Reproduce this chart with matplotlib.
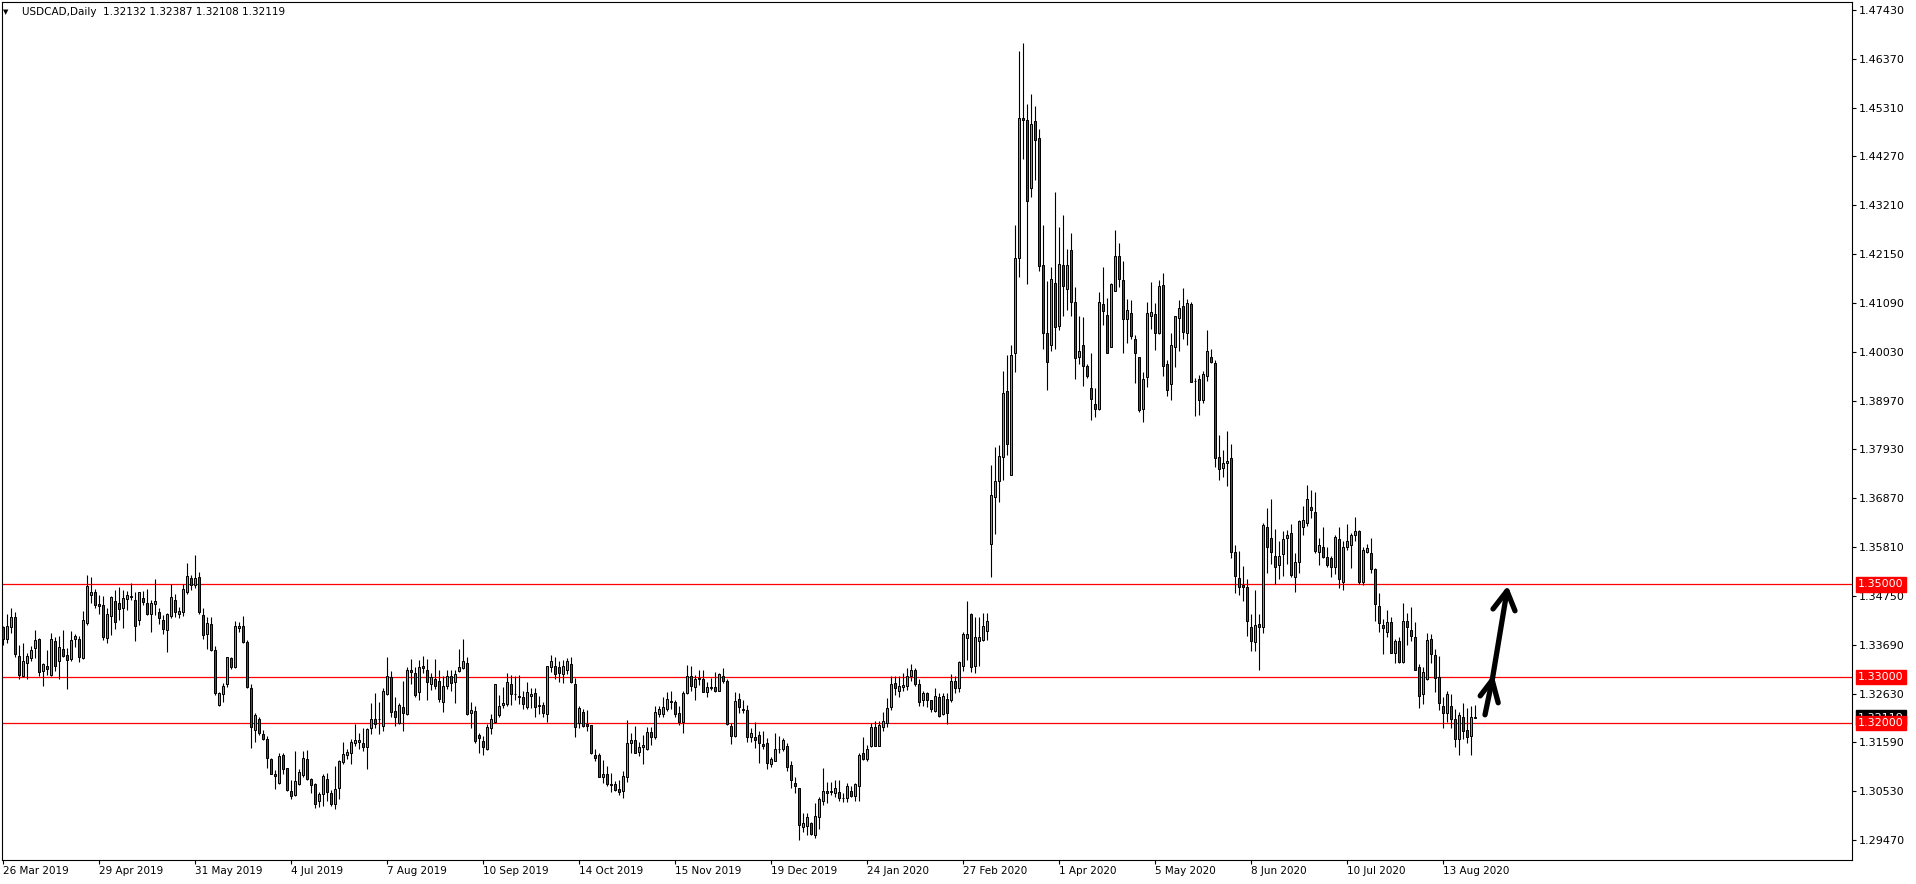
import numpy as np
import pandas as pd
import matplotlib
matplotlib.use("Agg")
import matplotlib.pyplot as plt

# USDCAD daily OHLC, 26 Mar 2019 .. 25 Aug 2020
opens = [
    1.3407, 1.3383, 1.3407, 1.3429, 1.3345, 1.3301, 1.3329, 1.3340, 1.3362, 1.3382,
    1.3313, 1.3323, 1.3305, 1.3378, 1.3334, 1.3360, 1.3347, 1.3338, 1.3381, 1.3383,
    1.3340, 1.3416, 1.3478, 1.3483, 1.3458, 1.3455, 1.3385, 1.3432, 1.3464, 1.3460,
    1.3450, 1.3468, 1.3473, 1.3466, 1.3423, 1.3470, 1.3460, 1.3436, 1.3457, 1.3440,
    1.3423, 1.3401, 1.3432, 1.3466, 1.3436, 1.3440, 1.3484, 1.3515, 1.3499, 1.3517,
    1.3433, 1.3392, 1.3414, 1.3359, 1.3239, 1.3262, 1.3284, 1.3340, 1.3322, 1.3405,
    1.3410, 1.3375, 1.3277, 1.3186, 1.3210, 1.3176, 1.3165, 1.3122, 1.3091, 1.3070,
    1.3132, 1.3102, 1.3053, 1.3044, 1.3068, 1.3088, 1.3122, 1.3079, 1.3068, 1.3031,
    1.3047, 1.3079, 1.3048, 1.3026, 1.3059, 1.3115, 1.3130, 1.3135, 1.3156, 1.3160,
    1.3158, 1.3148, 1.3189, 1.3208, 1.3209, 1.3194, 1.3263, 1.3299, 1.3227, 1.3200,
    1.3234, 1.3219, 1.3316, 1.3308, 1.3267, 1.3324, 1.3315, 1.3284, 1.3295, 1.3292,
    1.3246, 1.3281, 1.3303, 1.3288, 1.3313, 1.3319, 1.3329, 1.3221, 1.3226, 1.3174,
    1.3161, 1.3143, 1.3189, 1.3202, 1.3218, 1.3239, 1.3241, 1.3284, 1.3263, 1.3258,
    1.3256, 1.3234, 1.3259, 1.3265, 1.3239, 1.3239, 1.3219, 1.3321, 1.3324, 1.3322,
    1.3306, 1.3315, 1.3327, 1.3284, 1.3200, 1.3223, 1.3198, 1.3196, 1.3132, 1.3130,
    1.3083, 1.3091, 1.3068, 1.3068, 1.3057, 1.3053, 1.3084, 1.3158, 1.3164, 1.3137,
    1.3148, 1.3143, 1.3180, 1.3171, 1.3219, 1.3220, 1.3230, 1.3247, 1.3245, 1.3221,
    1.3202, 1.3265, 1.3301, 1.3279, 1.3296, 1.3295, 1.3268, 1.3275, 1.3279, 1.3270,
    1.3303, 1.3291, 1.3194, 1.3173, 1.3252, 1.3231, 1.3228, 1.3169, 1.3171, 1.3174,
    1.3155, 1.3156, 1.3111, 1.3119, 1.3145, 1.3143, 1.3151, 1.3109, 1.3071, 1.3059,
    1.2975, 1.2978, 1.2983, 1.2958, 1.2998, 1.3032, 1.3053, 1.3050, 1.3049, 1.3050,
    1.3038, 1.3037, 1.3053, 1.3043, 1.3065, 1.3135, 1.3122, 1.3151, 1.3191, 1.3151,
    1.3192, 1.3200, 1.3234, 1.3286, 1.3270, 1.3278, 1.3281, 1.3301, 1.3316, 1.3284,
    1.3249, 1.3265, 1.3249, 1.3227, 1.3256, 1.3219, 1.3252, 1.3250, 1.3291, 1.3275,
    1.3324, 1.3385, 1.3436, 1.3324, 1.3378, 1.3380, 1.3400, 1.3587, 1.3689, 1.3724,
    1.3776, 1.3918, 1.3736, 1.4000, 1.4207, 1.4510, 1.4504, 1.4357, 1.4502, 1.4466,
    1.4191, 1.4044, 1.4017, 1.4153, 1.4060, 1.4191, 1.4139, 1.4223, 1.4111, 1.3991,
    1.4017, 1.3972, 1.3925, 1.3890, 1.3880, 1.4107, 1.4083, 1.4014, 1.4135, 1.4210,
    1.4159, 1.4074, 1.4087, 1.4031, 1.3991, 1.3879, 1.3948, 1.4081, 1.4084, 1.4043,
    1.4147, 1.3977, 1.3933, 1.4014, 1.4077, 1.4102, 1.4045, 1.4106, 1.3941, 1.3945,
    1.3900, 1.3950, 1.3991, 1.3979, 1.3775, 1.3751, 1.3762, 1.3773, 1.3571, 1.3513,
    1.3499, 1.3494, 1.3407, 1.3375, 1.3414, 1.3407, 1.3624, 1.3600, 1.3562, 1.3542,
    1.3565, 1.3601, 1.3611, 1.3517, 1.3548, 1.3625, 1.3634, 1.3667, 1.3656, 1.3571,
    1.3580, 1.3560, 1.3557, 1.3537, 1.3598, 1.3505, 1.3580, 1.3585, 1.3606, 1.3616,
    1.3506, 1.3571, 1.3569, 1.3533, 1.3454, 1.3412, 1.3398, 1.3418, 1.3351, 1.3378,
    1.3332, 1.3421, 1.3402, 1.3386, 1.3321, 1.3262, 1.3295, 1.3381, 1.3347, 1.3299,
    1.3237, 1.3221, 1.3237, 1.3208, 1.3165, 1.3213, 1.3185, 1.3173, 1.32132,
]
highs = [
    1.3411, 1.3437, 1.3448, 1.3441, 1.3368, 1.3373, 1.3352, 1.3367, 1.3401, 1.3385,
    1.3331, 1.3358, 1.3394, 1.3387, 1.3388, 1.3401, 1.3362, 1.3400, 1.3392, 1.3389,
    1.3443, 1.3520, 1.3517, 1.3490, 1.3477, 1.3475, 1.3448, 1.3476, 1.3488, 1.3495,
    1.3488, 1.3486, 1.3504, 1.3484, 1.3484, 1.3486, 1.3491, 1.3466, 1.3511, 1.3450,
    1.3434, 1.3439, 1.3501, 1.3479, 1.3452, 1.3500, 1.3546, 1.3520, 1.3564, 1.3526,
    1.3448, 1.3429, 1.3429, 1.3367, 1.3268, 1.3286, 1.3344, 1.3344, 1.3422, 1.3419,
    1.3432, 1.3380, 1.3285, 1.3221, 1.3214, 1.3186, 1.3173, 1.3124, 1.3099, 1.3135,
    1.3135, 1.3104, 1.3077, 1.3140, 1.3100, 1.3140, 1.3142, 1.3082, 1.3071, 1.3052,
    1.3091, 1.3093, 1.3055, 1.3107, 1.3120, 1.3160, 1.3144, 1.3166, 1.3198, 1.3179,
    1.3189, 1.3189, 1.3244, 1.3265, 1.3245, 1.3277, 1.3342, 1.3313, 1.3256, 1.3244,
    1.3291, 1.3321, 1.3339, 1.3321, 1.3337, 1.3345, 1.3339, 1.3308, 1.3339, 1.3315,
    1.3301, 1.3316, 1.3316, 1.3316, 1.3360, 1.3382, 1.3342, 1.3246, 1.3236, 1.3178,
    1.3173, 1.3198, 1.3219, 1.3285, 1.3261, 1.3279, 1.3308, 1.3304, 1.3301, 1.3304,
    1.3270, 1.3288, 1.3277, 1.3277, 1.3259, 1.3246, 1.3324, 1.3347, 1.3342, 1.3335,
    1.3337, 1.3340, 1.3344, 1.3297, 1.3238, 1.3230, 1.3228, 1.3197, 1.3143, 1.3136,
    1.3120, 1.3108, 1.3093, 1.3075, 1.3077, 1.3097, 1.3207, 1.3178, 1.3194, 1.3160,
    1.3174, 1.3191, 1.3192, 1.3236, 1.3236, 1.3256, 1.3268, 1.3269, 1.3250, 1.3236,
    1.3270, 1.3326, 1.3324, 1.3304, 1.3316, 1.3316, 1.3288, 1.3297, 1.3310, 1.3308,
    1.3319, 1.3295, 1.3200, 1.3268, 1.3265, 1.3249, 1.3239, 1.3189, 1.3202, 1.3182,
    1.3183, 1.3167, 1.3127, 1.3179, 1.3173, 1.3167, 1.3158, 1.3118, 1.3084, 1.3060,
    1.3005, 1.3005, 1.2987, 1.3027, 1.3041, 1.3102, 1.3073, 1.3073, 1.3077, 1.3076,
    1.3049, 1.3071, 1.3064, 1.3071, 1.3135, 1.3171, 1.3153, 1.3200, 1.3205, 1.3205,
    1.3225, 1.3254, 1.3302, 1.3301, 1.3301, 1.3308, 1.3319, 1.3327, 1.3320, 1.3295,
    1.3269, 1.3268, 1.3250, 1.3275, 1.3265, 1.3266, 1.3266, 1.3306, 1.3303, 1.3334,
    1.3398, 1.3464, 1.3439, 1.3430, 1.3430, 1.3439, 1.3439, 1.3758, 1.3797, 1.3801,
    1.3961, 1.3996, 1.4019, 1.4278, 1.4655, 1.4671, 1.4539, 1.4560, 1.4535, 1.4485,
    1.4278, 1.4157, 1.4186, 1.4350, 1.4273, 1.4299, 1.4226, 1.4261, 1.4143, 1.4081,
    1.4079, 1.3977, 1.4000, 1.3925, 1.4132, 1.4186, 1.4120, 1.4152, 1.4267, 1.4238,
    1.4199, 1.4118, 1.4116, 1.4039, 1.3993, 1.3959, 1.4111, 1.4155, 1.4108, 1.4159,
    1.4174, 1.3985, 1.4044, 1.4081, 1.4115, 1.4142, 1.4118, 1.4110, 1.3946, 1.3954,
    1.3961, 1.4050, 1.4009, 1.3985, 1.3823, 1.3790, 1.3832, 1.3803, 1.3585, 1.3572,
    1.3540, 1.3511, 1.3436, 1.3488, 1.3436, 1.3634, 1.3665, 1.3685, 1.3621, 1.3594,
    1.3616, 1.3618, 1.3631, 1.3569, 1.3639, 1.3670, 1.3715, 1.3704, 1.3699, 1.3600,
    1.3624, 1.3580, 1.3562, 1.3608, 1.3624, 1.3594, 1.3630, 1.3612, 1.3645, 1.3618,
    1.3580, 1.3587, 1.3600, 1.3536, 1.3481, 1.3425, 1.3445, 1.3429, 1.3383, 1.3387,
    1.3459, 1.3439, 1.3451, 1.3418, 1.3328, 1.3322, 1.3396, 1.3393, 1.3360, 1.3345,
    1.3257, 1.3270, 1.3263, 1.3231, 1.3225, 1.3243, 1.3232, 1.3236, 1.32387,
]
lows = [
    1.3370, 1.3373, 1.3394, 1.3342, 1.3295, 1.3300, 1.3295, 1.3335, 1.3340, 1.3302,
    1.3281, 1.3304, 1.3303, 1.3313, 1.3295, 1.3344, 1.3273, 1.3335, 1.3364, 1.3333,
    1.3339, 1.3413, 1.3459, 1.3450, 1.3437, 1.3380, 1.3374, 1.3391, 1.3403, 1.3423,
    1.3406, 1.3445, 1.3466, 1.3378, 1.3412, 1.3455, 1.3434, 1.3398, 1.3434, 1.3414,
    1.3393, 1.3354, 1.3427, 1.3429, 1.3427, 1.3432, 1.3479, 1.3489, 1.3493, 1.3437,
    1.3381, 1.3360, 1.3357, 1.3261, 1.3238, 1.3246, 1.3279, 1.3318, 1.3320, 1.3398,
    1.3373, 1.3275, 1.3147, 1.3160, 1.3174, 1.3163, 1.3104, 1.3089, 1.3057, 1.3068,
    1.3091, 1.3054, 1.3035, 1.3042, 1.3066, 1.3084, 1.3076, 1.3048, 1.3016, 1.3019,
    1.3021, 1.3032, 1.3021, 1.3014, 1.3036, 1.3112, 1.3122, 1.3112, 1.3151, 1.3144,
    1.3140, 1.3101, 1.3177, 1.3189, 1.3176, 1.3184, 1.3261, 1.3214, 1.3194, 1.3198,
    1.3182, 1.3218, 1.3284, 1.3257, 1.3249, 1.3308, 1.3250, 1.3272, 1.3274, 1.3245,
    1.3223, 1.3273, 1.3270, 1.3244, 1.3311, 1.3317, 1.3218, 1.3189, 1.3158, 1.3136,
    1.3130, 1.3142, 1.3177, 1.3200, 1.3214, 1.3232, 1.3238, 1.3239, 1.3251, 1.3241,
    1.3231, 1.3231, 1.3232, 1.3213, 1.3220, 1.3213, 1.3203, 1.3311, 1.3295, 1.3288,
    1.3286, 1.3306, 1.3286, 1.3169, 1.3189, 1.3192, 1.3182, 1.3133, 1.3117, 1.3083,
    1.3071, 1.3065, 1.3050, 1.3053, 1.3045, 1.3039, 1.3072, 1.3136, 1.3135, 1.3129,
    1.3112, 1.3142, 1.3153, 1.3166, 1.3214, 1.3214, 1.3226, 1.3231, 1.3214, 1.3197,
    1.3178, 1.3262, 1.3270, 1.3251, 1.3282, 1.3267, 1.3257, 1.3272, 1.3267, 1.3269,
    1.3286, 1.3196, 1.3155, 1.3169, 1.3221, 1.3221, 1.3160, 1.3160, 1.3147, 1.3113,
    1.3143, 1.3100, 1.3106, 1.3117, 1.3135, 1.3140, 1.3097, 1.3059, 1.3048, 1.2947,
    1.2965, 1.2958, 1.2958, 1.2952, 1.2972, 1.3023, 1.3028, 1.3045, 1.3040, 1.3032,
    1.3029, 1.3030, 1.3041, 1.3032, 1.3032, 1.3120, 1.3117, 1.3148, 1.3151, 1.3151,
    1.3184, 1.3192, 1.3228, 1.3261, 1.3257, 1.3270, 1.3272, 1.3291, 1.3281, 1.3236,
    1.3238, 1.3234, 1.3223, 1.3225, 1.3214, 1.3218, 1.3198, 1.3246, 1.3265, 1.3268,
    1.3313, 1.3337, 1.3310, 1.3309, 1.3324, 1.3378, 1.3380, 1.3516, 1.3609, 1.3679,
    1.3727, 1.3780, 1.3736, 1.3960, 1.4166, 1.4421, 1.4149, 1.4338, 1.4376, 1.4178,
    1.4010, 1.3921, 1.4006, 1.4010, 1.4050, 1.4080, 1.4094, 1.4081, 1.3944, 1.3977,
    1.3929, 1.3946, 1.3855, 1.3863, 1.3877, 1.4062, 1.4000, 1.4014, 1.4135, 1.4143,
    1.4000, 1.4023, 1.4031, 1.3936, 1.3874, 1.3852, 1.3927, 1.4052, 1.4008, 1.4041,
    1.3951, 1.3907, 1.3900, 1.3971, 1.4006, 1.4031, 1.4018, 1.3938, 1.3865, 1.3867,
    1.3892, 1.3940, 1.3979, 1.3755, 1.3727, 1.3733, 1.3713, 1.3557, 1.3482, 1.3477,
    1.3465, 1.3389, 1.3355, 1.3357, 1.3314, 1.3394, 1.3524, 1.3544, 1.3501, 1.3511,
    1.3518, 1.3544, 1.3517, 1.3484, 1.3524, 1.3606, 1.3626, 1.3644, 1.3569, 1.3542,
    1.3557, 1.3538, 1.3517, 1.3523, 1.3492, 1.3489, 1.3575, 1.3535, 1.3594, 1.3501,
    1.3499, 1.3569, 1.3524, 1.3422, 1.3398, 1.3349, 1.3387, 1.3351, 1.3329, 1.3331,
    1.3331, 1.3369, 1.3378, 1.3315, 1.3232, 1.3241, 1.3293, 1.3331, 1.3268, 1.3228,
    1.3189, 1.3203, 1.3189, 1.3149, 1.3130, 1.3165, 1.3156, 1.3131, 1.32108,
]
closes = [
    1.3382, 1.3410, 1.3429, 1.3349, 1.3304, 1.3334, 1.3345, 1.3358, 1.3380, 1.3311,
    1.3328, 1.3318, 1.3382, 1.3324, 1.3364, 1.3346, 1.3336, 1.3380, 1.3388, 1.3344,
    1.3423, 1.3497, 1.3484, 1.3455, 1.3454, 1.3387, 1.3436, 1.3472, 1.3418, 1.3446,
    1.3470, 1.3477, 1.3475, 1.3411, 1.3483, 1.3463, 1.3436, 1.3460, 1.3464, 1.3427,
    1.3403, 1.3436, 1.3472, 1.3440, 1.3442, 1.3491, 1.3518, 1.3499, 1.3515, 1.3440,
    1.3391, 1.3416, 1.3358, 1.3266, 1.3266, 1.3281, 1.3342, 1.3322, 1.3410, 1.3411,
    1.3375, 1.3279, 1.3191, 1.3217, 1.3178, 1.3165, 1.3124, 1.3091, 1.3086, 1.3129,
    1.3101, 1.3055, 1.3042, 1.3075, 1.3094, 1.3124, 1.3079, 1.3066, 1.3025, 1.3047,
    1.3086, 1.3050, 1.3024, 1.3057, 1.3118, 1.3133, 1.3137, 1.3160, 1.3164, 1.3164,
    1.3149, 1.3187, 1.3208, 1.3198, 1.3210, 1.3270, 1.3301, 1.3225, 1.3214, 1.3239,
    1.3221, 1.3316, 1.3310, 1.3260, 1.3321, 1.3319, 1.3290, 1.3299, 1.3281, 1.3252,
    1.3281, 1.3303, 1.3286, 1.3306, 1.3321, 1.3335, 1.3220, 1.3228, 1.3162, 1.3167,
    1.3148, 1.3191, 1.3208, 1.3284, 1.3238, 1.3243, 1.3288, 1.3262, 1.3262, 1.3257,
    1.3241, 1.3267, 1.3262, 1.3234, 1.3238, 1.3221, 1.3324, 1.3334, 1.3306, 1.3308,
    1.3324, 1.3334, 1.3288, 1.3191, 1.3232, 1.3194, 1.3194, 1.3135, 1.3124, 1.3084,
    1.3089, 1.3068, 1.3067, 1.3055, 1.3052, 1.3086, 1.3158, 1.3164, 1.3136, 1.3149,
    1.3153, 1.3180, 1.3171, 1.3223, 1.3231, 1.3234, 1.3252, 1.3246, 1.3219, 1.3202,
    1.3265, 1.3302, 1.3281, 1.3295, 1.3298, 1.3268, 1.3278, 1.3279, 1.3270, 1.3306,
    1.3292, 1.3198, 1.3173, 1.3248, 1.3234, 1.3229, 1.3169, 1.3179, 1.3164, 1.3156,
    1.3151, 1.3113, 1.3122, 1.3145, 1.3145, 1.3164, 1.3106, 1.3076, 1.3065, 1.2980,
    1.2983, 1.2996, 1.2960, 1.3000, 1.3035, 1.3053, 1.3048, 1.3053, 1.3059, 1.3039,
    1.3037, 1.3063, 1.3043, 1.3068, 1.3130, 1.3122, 1.3145, 1.3191, 1.3151, 1.3196,
    1.3205, 1.3232, 1.3284, 1.3275, 1.3280, 1.3283, 1.3303, 1.3315, 1.3284, 1.3246,
    1.3265, 1.3249, 1.3231, 1.3259, 1.3216, 1.3259, 1.3221, 1.3291, 1.3277, 1.3332,
    1.3392, 1.3393, 1.3321, 1.3386, 1.3386, 1.3410, 1.3421, 1.3693, 1.3724, 1.3778,
    1.3914, 1.3803, 1.3996, 1.4206, 1.4510, 1.4504, 1.4329, 1.4496, 1.4462, 1.4189,
    1.4043, 1.3981, 1.4161, 1.4058, 1.4193, 1.4145, 1.4191, 1.4111, 1.3990, 1.4006,
    1.3972, 1.3950, 1.3902, 1.3879, 1.4111, 1.4091, 1.4000, 1.4151, 1.4210, 1.4160,
    1.4075, 1.4093, 1.4037, 1.4000, 1.3877, 1.3945, 1.4087, 1.4089, 1.4045, 1.4146,
    1.3973, 1.3921, 1.4017, 1.4080, 1.4099, 1.4047, 1.4108, 1.3938, 1.3940, 1.3898,
    1.3955, 1.4004, 1.3981, 1.3774, 1.3749, 1.3762, 1.3768, 1.3571, 1.3519, 1.3494,
    1.3494, 1.3420, 1.3378, 1.3412, 1.3409, 1.3629, 1.3582, 1.3571, 1.3537, 1.3562,
    1.3598, 1.3607, 1.3521, 1.3548, 1.3637, 1.3639, 1.3684, 1.3662, 1.3573, 1.3585,
    1.3560, 1.3542, 1.3538, 1.3602, 1.3511, 1.3582, 1.3594, 1.3606, 1.3616, 1.3506,
    1.3575, 1.3578, 1.3533, 1.3457, 1.3416, 1.3405, 1.3418, 1.3352, 1.3378, 1.3333,
    1.3421, 1.3409, 1.3389, 1.3316, 1.3259, 1.3310, 1.3380, 1.3349, 1.3297, 1.3244,
    1.3221, 1.3264, 1.3210, 1.3165, 1.3218, 1.3184, 1.3171, 1.3213, 1.32119,
]

symbol = "USDCAD,Daily"
last_bar = [1.32132, 1.32387, 1.32108, 1.32119]
levels = [1.35, 1.33, 1.32]
price_ticks = [1.47430, 1.46370, 1.45310, 1.44270, 1.43210, 1.42150, 1.41090,
               1.40030, 1.38970, 1.37930, 1.36870, 1.35810, 1.34750, 1.33690,
               1.32630, 1.31590, 1.30530, 1.29470]
no_trade_days = ["2019-12-25", "2020-01-01"]

# hand drawn arrow (bar index, price)
arrow_shaft = [(370.5, 1.3218), (372.3, 1.3293), (376.0, 1.3486)]
arrow_head_low = [(369.3, 1.3259), (372.3, 1.3293), (373.8, 1.3244)]
arrow_head_top = [(372.5, 1.3447), (376.0, 1.3486), (378.0, 1.3443)]

dates = pd.bdate_range("2019-03-26", "2020-08-25")
dates = dates[~dates.isin(pd.to_datetime(no_trade_days))]

n = min(len(opens), len(highs), len(lows), len(closes), len(dates))
o = np.array(opens[:n])
h = np.array(highs[:n])
l = np.array(lows[:n])
c = np.array(closes[:n])
x = np.arange(n)
up = c >= o

W, H = 1916, 884
fig = plt.figure(figsize=(W / 100, H / 100), dpi=100)
fig.patch.set_facecolor("white")
ax = fig.add_axes([2 / W, 24 / H, 1850 / W, 858 / H])
ax.set_xlim(-0.25, 462.25)
ax.set_ylim(1.29039, 1.47600)

# candles
ax.vlines(x, l, h, color="black", lw=0.8, zorder=2)
ax.bar(x, np.abs(c - o), bottom=np.minimum(o, c), width=0.5,
       color=np.where(up, "#32cd32", "#ff0000"), edgecolor="black",
       linewidth=0.72, zorder=3)

# support / resistance lines
for lv in levels:
    ax.axhline(lv, color="red", lw=0.9, zorder=1)

# arrow
for path in (arrow_shaft, arrow_head_low, arrow_head_top):
    px, py = zip(*path)
    ax.plot(px, py, color="black", lw=3.8, solid_capstyle="round",
            solid_joinstyle="round", zorder=5)

# axes look
for sp in ax.spines.values():
    sp.set_linewidth(0.8)
    sp.set_color("black")

tick_idx = x[::24]
ax.set_xticks(tick_idx)
ax.set_xticklabels([f"{dates[i].day} {dates[i]:%b %Y}" for i in tick_idx],
                   ha="left")
ax.tick_params(axis="x", length=3, width=0.8, pad=1.5, labelsize=7.5)

ax.yaxis.tick_right()
ax.set_yticks(price_ticks)
ax.set_yticklabels([f"{v:.5f}" for v in price_ticks])
ax.tick_params(axis="y", length=3, width=0.8, pad=2, labelsize=8)


def price_box(v, face, z):
    ax.annotate(f"{v:.5f}", xy=(1, v), xycoords=ax.get_yaxis_transform(),
                xytext=(6, 0), textcoords="offset pixels", ha="left",
                va="center", fontsize=8, color="white", zorder=z,
                bbox=dict(boxstyle="square,pad=0.2", fc=face, ec=face),
                annotation_clip=False)


price_box(last_bar[3], "black", 6)
for lv in levels:
    price_box(lv, "red", 7)

# title
fig.text(3 / W, 1 - 12 / H, "\u25bc", fontsize=5, va="center", ha="left")
fig.text(22 / W, 1 - 12 / H,
         symbol + "  " + " ".join(f"{v:.5f}" for v in last_bar),
         fontsize=7.5, va="center", ha="left", color="black")

fig.savefig("out.png", dpi=100)
